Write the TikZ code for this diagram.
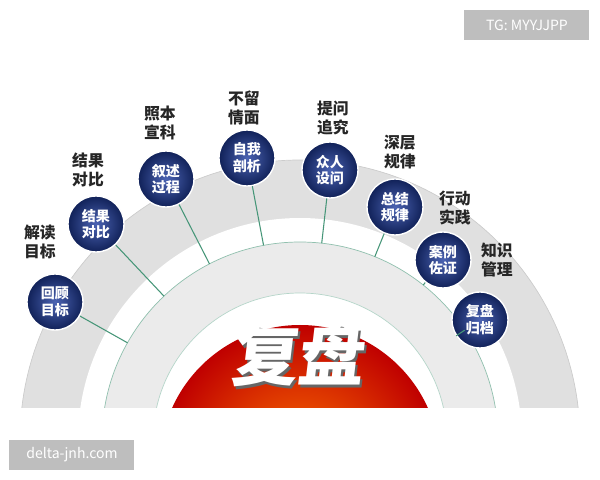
\documentclass[tikz,border=0pt]{standalone}
\usepackage{fontspec}
\setmainfont{Noto Sans CJK SC}
\usetikzlibrary{calc}
\definecolor{linkgreen}{RGB}{70,150,120}
\definecolor{ballblue}{RGB}{30,60,160}
\definecolor{tagbg}{RGB}{190,190,190}
\tikzset{
  step ball/.style={circle,minimum size=56*0.02cm,inner sep=0pt,inner color=ballblue!80!white,outer color=ballblue!55!black,
    draw=white,line width=0.8pt,text=white,font=\bfseries\fontsize{8}{9.5}\selectfont,align=center},
  step label/.style={font=\bfseries\fontsize{9}{10.5}\selectfont,align=center,text=black!85},
  title text/.style={font=\bfseries\fontsize{38}{38}\selectfont,xslant=0.12},
  link/.style={linkgreen,line width=0.6pt},
  tag/.style={fill=tagbg,text=white,font=\fontsize{8}{9}\selectfont,inner sep=0pt}
}
\begin{document}
\begin{tikzpicture}[x=0.02cm,y=-0.02cm]
\useasboundingbox (0,0) rectangle (600,480);
\coordinate (ctr) at (300,440);
% rings
\begin{scope}
\clip (0,0) rectangle (600,408);
\fill[black!12,draw=black!20] (ctr) circle (280);
\fill[white] (ctr) circle (222);
\draw[linkgreen!60,fill=black!8] (ctr) circle (198);
\draw[linkgreen!40,fill=white] (ctr) circle (147);
\shade[inner color=orange!90!red,outer color=red!75!black] (300,465) circle (140);
\end{scope}
% centre title
\node[title text,text=black!60] (shadow) at (302,358) {复盘};
\node[title text,text=white] (title) at (300,355) {复盘};
% steps
\foreach \i/\px/\py/\ang/\txt/\lab/\lx/\ly in {
  1/55/302/150.6/回顾\\目标/解读\\目标/40/242,
  2/96/224/133.4/结果\\对比/结果\\对比/88/170,
  3/166/179/117.2/叙述\\过程/照本\\宣科/160/123,
  4/247/158/100.6/自我\\剖析/不留\\情面/244/108,
  5/330/170/83.7/众人\\设问/提问\\追究/333/118,
  6/395/207/67.8/总结\\规律/深层\\规律/400/152,
  7/443/260/51.5/案例\\佐证/行动\\实践/455/208,
  8/480/320/33.7/复盘\\归档/知识\\管理/497/260}{
  \coordinate (e\i) at ($(ctr)+(-\ang:198)$);
  \node[step ball] (s\i) at (\px,\py) {\txt};
  \draw[link] (s\i) -- (e\i);
  \node[step label] (l\i) at (\lx,\ly) {\lab};
}
% watermarks
\node[tag,minimum width=125*0.02cm,minimum height=30*0.02cm] (tg) at (527,25) {TG: MYYJJPP};
\node[tag,minimum width=125*0.02cm,minimum height=30*0.02cm] (web) at (72,455) {delta-jnh.com};
\end{tikzpicture}
\end{document}
